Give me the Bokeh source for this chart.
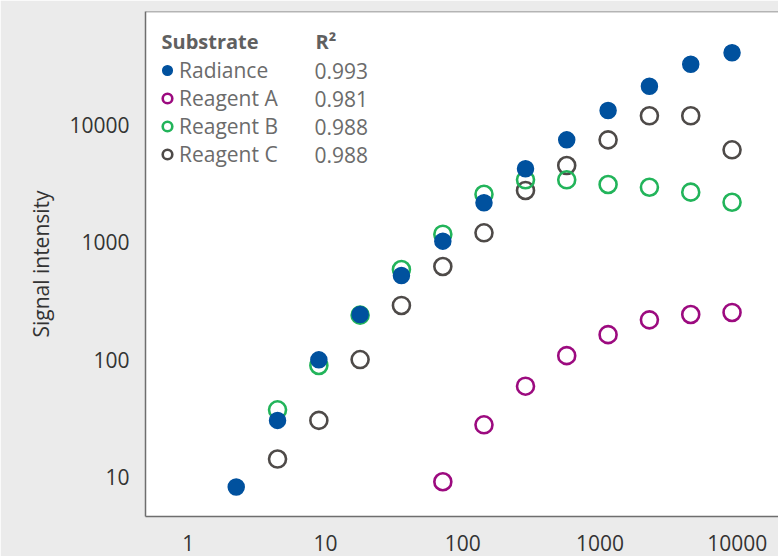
from bokeh.plotting import figure
from bokeh.models import Range1d, FixedTicker, Legend, LegendItem, Label, Span
from bokeh.embed import file_html
from bokeh.resources import INLINE

# ---- data ----
dilution = [2.24, 4.48, 8.96, 17.9, 35.8, 71.7, 143, 287, 573, 1147, 2294, 4588, 9175]

radiance_x = dilution
radiance_y = [8.2, 30.3, 99.5, 242, 520, 1020, 2170, 4220, 7450, 13240, 21300, 32800, 41100]

reagent_a_x = dilution[5:]
reagent_a_y = [9.1, 27.8, 59.3, 108, 163, 218, 242, 252]

reagent_b_x = dilution[1:]
reagent_b_y = [37.3, 89, 239, 585, 1170, 2560, 3400, 3400, 3100, 2940, 2670, 2190]

reagent_c_x = dilution[1:]
reagent_c_y = [14.2, 30.3, 100, 289, 621, 1202, 2757, 4500, 7450, 11940, 11940, 6125]

series_names = ["Radiance", "Reagent A", "Reagent B", "Reagent C"]
r_squared = ["0.993", "0.981", "0.988", "0.988"]

x_ticks = [1, 10, 100, 1000, 10000]
x_tick_labels = ["1", "10", "100", "1000", "10000"]
y_ticks = [10, 100, 1000, 10000]
y_tick_labels = ["10", "100", "1000", "10000"]

X_START, X_END = 0.489, 20000
Y_START, Y_END = 4.6, 92400

# ---- styling ----
FONT = "Open Sans"
BLUE = "#00519E"
MAGENTA = "#9C0A7F"
GREEN = "#22B45A"
GREY = "#4E4A48"
AXIS = "#6E6E6E"

W, H = 778, 556
B_LEFT, B_TOP, B_BOTTOM = 145, 11, 40
p = figure(width=W, height=H, x_axis_type="log", y_axis_type="log",
           x_range=Range1d(X_START, X_END), y_range=Range1d(Y_START, Y_END),
           output_backend="svg", toolbar_location=None,
           min_border_left=B_LEFT, min_border_right=0, min_border_top=B_TOP,
           min_border_bottom=B_BOTTOM,
           background_fill_color="white", border_fill_color="#EBEBEB")
p.outline_line_color = None
p.grid.visible = False

for ax in (p.xaxis[0], p.yaxis[0]):
    ax.axis_line_color = AXIS
    ax.axis_line_width = 1.5
    ax.major_tick_line_color = None
    ax.minor_tick_line_color = None
    ax.major_tick_out = 0
    ax.major_tick_in = 0
    ax.major_label_text_font = FONT
    ax.major_label_text_font_size = "21px"
    ax.major_label_text_color = "#333333"

p.xaxis.ticker = FixedTicker(ticks=x_ticks)
p.xaxis.major_label_overrides = {t: l for t, l in zip(x_ticks, x_tick_labels)}
p.xaxis.major_label_standoff = 18
p.yaxis.ticker = FixedTicker(ticks=y_ticks)
p.yaxis.major_label_overrides = {t: l for t, l in zip(y_ticks, y_tick_labels)}
p.yaxis.major_label_standoff = 16
p.yaxis.axis_label = "Signal intensity"
p.yaxis.axis_label_text_font = FONT
p.yaxis.axis_label_text_font_size = "21px"
p.yaxis.axis_label_text_font_style = "normal"
p.yaxis.axis_label_text_color = "#333333"
p.yaxis.axis_label_standoff = 11

# top frame line
p.add_layout(Span(location=Y_END, dimension="width", line_color=AXIS, line_width=1.5))

# ---- data ----
r_c = p.scatter(reagent_c_x, reagent_c_y, size=17, fill_color=None, line_color=GREY, line_width=2.6)
r_b = p.scatter(reagent_b_x, reagent_b_y, size=17, fill_color=None, line_color=GREEN, line_width=2.6)
r_a = p.scatter(reagent_a_x, reagent_a_y, size=17, fill_color=None, line_color=MAGENTA, line_width=2.6)
r_r = p.scatter(radiance_x, radiance_y, size=16, fill_color=BLUE, line_color=BLUE, line_width=1.5)

renderers = [r_r, r_a, r_b, r_c]

# ---- legend ----
frame_h = H - B_TOP - B_BOTTOM
first_top = 45
row_h = 28
legend = Legend(items=[LegendItem(label=n, renderers=[r]) for n, r in zip(series_names, renderers)],
                location=(10, frame_h - first_top - row_h * len(series_names)),
                glyph_width=24, glyph_height=row_h, label_height=row_h, spacing=0,
                label_standoff=0, padding=0, margin=0,
                label_text_font=FONT, label_text_font_size="21px", label_text_color="#6B6B6B",
                background_fill_alpha=0, border_line_color=None)
p.add_layout(legend)

hdr_y = frame_h - 29.5
for hx, ht in ((16, "Substrate"), (170, "R²")):
    p.add_layout(Label(x=hx, y=hdr_y, x_units="screen", y_units="screen", text=ht,
                       text_baseline="middle", text_font=FONT, text_font_size="20px",
                       text_font_style="bold", text_color="#606060"))
for i, v in enumerate(r_squared):
    p.add_layout(Label(x=169, y=frame_h - (first_top + row_h / 2 + row_h * i),
                       x_units="screen", y_units="screen", text=v,
                       text_baseline="middle", text_font=FONT, text_font_size="21px",
                       text_color="#6B6B6B"))

open("out.html", "w").write(file_html(p, INLINE))
